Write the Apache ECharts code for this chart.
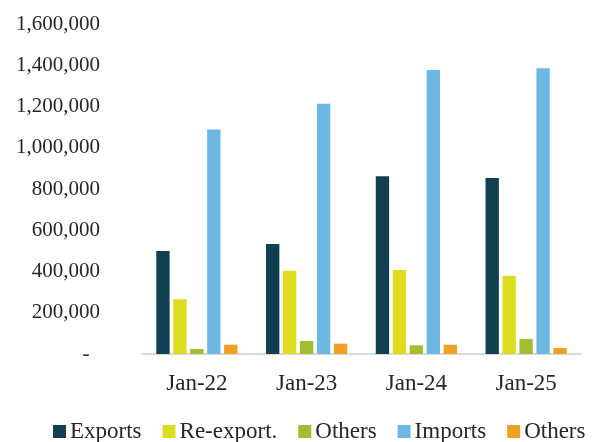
<!DOCTYPE html>
<html>
<head>
<meta charset="utf-8">
<script src="https://cdn.jsdelivr.net/npm/echarts@6/dist/echarts.min.js"></script>
<style>
html,body{margin:0;padding:0;background:#fff;}
#chart{width:595px;height:442px;}
</style>
</head>
<body>
<div id="chart"></div>
<script>
var categories = ['Jan-22', 'Jan-23', 'Jan-24', 'Jan-25'];
var seriesNames = ['Exports', 'Re-export.', 'Others', 'Imports', 'Others '];
var exportsData = [500000, 533000, 862000, 853000];
var reexportData = [265000, 404000, 407000, 380000];
var others1Data = [24000, 63000, 42000, 73000];
var importsData = [1089000, 1213000, 1377000, 1385000];
var others2Data = [45000, 50000, 45000, 29000];
var colors = ['#103F52', '#DEDC1E', '#A3BD31', '#6CB8E3', '#F1A025'];
var allData = [exportsData, reexportData, others1Data, importsData, others2Data];

var font = 'Liberation Serif';
var chart = echarts.init(document.getElementById('chart'), null, {renderer: 'canvas'});
var series = seriesNames.map(function (n, i) {
  return {
    name: n,
    type: 'bar',
    data: allData[i],
    itemStyle: {color: colors[i]},
    barGap: '27%',
    barCategoryGap: '26%'
  };
});
chart.setOption({
  animation: false,
  color: colors,
  grid: {left: 142, right: 14, top: 24, bottom: 88, containLabel: false},
  legend: {
    data: seriesNames,
    top: 420,
    left: 53,
    padding: 0,
    itemWidth: 13,
    itemHeight: 13,
    itemGap: 21,
    icon: 'rect',
    textStyle: {fontFamily: font, fontSize: 23, color: '#262626', padding: [0, 0, 0, -1]}
  },
  xAxis: {
    type: 'category',
    data: categories,
    axisLine: {lineStyle: {color: '#D9D9D9', width: 2}},
    axisTick: {show: false},
    axisLabel: {fontFamily: font, fontSize: 23, color: '#262626', margin: 18}
  },
  yAxis: {
    type: 'value',
    min: 0,
    max: 1600000,
    interval: 200000,
    splitLine: {show: false},
    axisLine: {show: false},
    axisTick: {show: false},
    axisLabel: {
      fontFamily: font, fontSize: 21, color: '#262626', margin: 42,
      formatter: function (v) {
        if (v === 0) return '-  ';
        return v.toLocaleString('en-US');
      }
    }
  },
  series: series
});
</script>
</body>
</html>
